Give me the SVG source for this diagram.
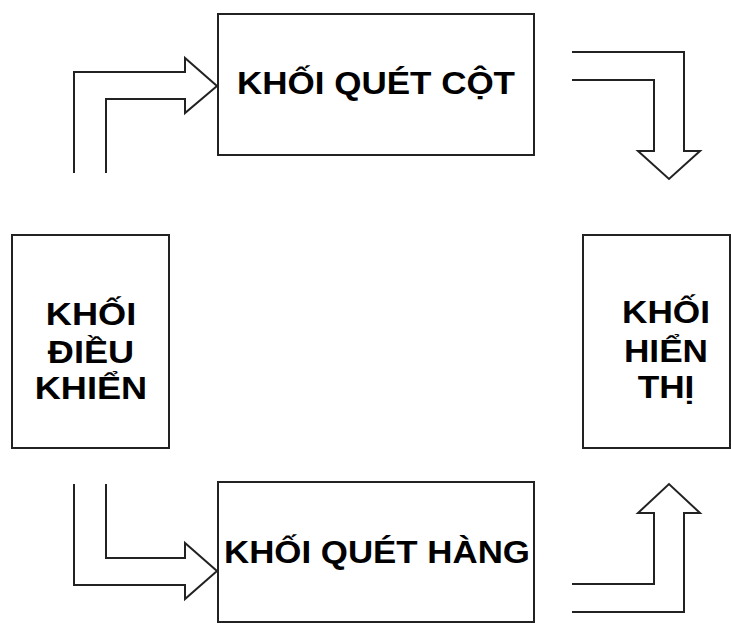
<svg xmlns="http://www.w3.org/2000/svg" width="731" height="623" viewBox="0 0 731 623">
  <style>
    .box { fill: #ffffff; stroke: #222222; stroke-width: 2; }
    .flow { fill: none; stroke: #222222; stroke-width: 2; stroke-linejoin: miter; }
    .label { font-family: "Liberation Sans", Arial, sans-serif; font-weight: bold; font-size: 31px; fill: #000000; text-anchor: middle; }
    .side { font-size: 32px; }
  </style>
  <rect x="0" y="0" width="731" height="623" fill="#ffffff"/>

  <g id="connectors">
    <!-- control block to column scanner -->
    <path class="flow" d="M74,173 L74,72 L185,72 L185,58 L217,86 L185,113 L185,99 L106,99 L106,173"/>
    <!-- column scanner to display -->
    <path class="flow" d="M572,52 L684,52 L684,151 L700,151 L669,179 L638,151 L654,151 L654,80 L572,80"/>
    <!-- control block to row scanner -->
    <path class="flow" d="M74,484 L74,585 L185,585 L185,599 L217,571 L185,543 L185,558 L106,558 L106,484"/>
    <!-- row scanner to display -->
    <path class="flow" d="M572,612 L684,612 L684,513 L700,513 L669,484 L638,513 L654,513 L654,584 L572,584"/>
  </g>

  <g id="column-scanner">
    <rect class="box" x="218" y="14" width="316" height="141"/>
    <text class="label" x="376" y="94" textLength="278" lengthAdjust="spacingAndGlyphs">KHỐI QUÉT CỘT</text>
  </g>

  <g id="row-scanner">
    <rect class="box" x="218" y="482" width="316" height="140"/>
    <text class="label" x="377" y="563" textLength="306" lengthAdjust="spacingAndGlyphs">KHỐI QUÉT HÀNG</text>
  </g>

  <g id="control-block">
    <rect class="box" x="12" y="235" width="157" height="213"/>
    <g transform="translate(91,0) scale(1.13,1)">
      <text class="label side" x="0" y="325">KHỐI</text>
      <text class="label side" x="0" y="363">ĐIỀU</text>
      <text class="label side" x="0" y="399">KHIỂN</text>
    </g>
  </g>

  <g id="display-block">
    <rect class="box" x="583" y="235" width="147" height="213"/>
    <g transform="translate(666,0) scale(1.1,1)">
      <text class="label side" x="0" y="323">KHỐI</text>
      <text class="label side" x="0" y="362">HIỂN</text>
      <text class="label side" x="0" y="398">THỊ</text>
    </g>
  </g>
</svg>
